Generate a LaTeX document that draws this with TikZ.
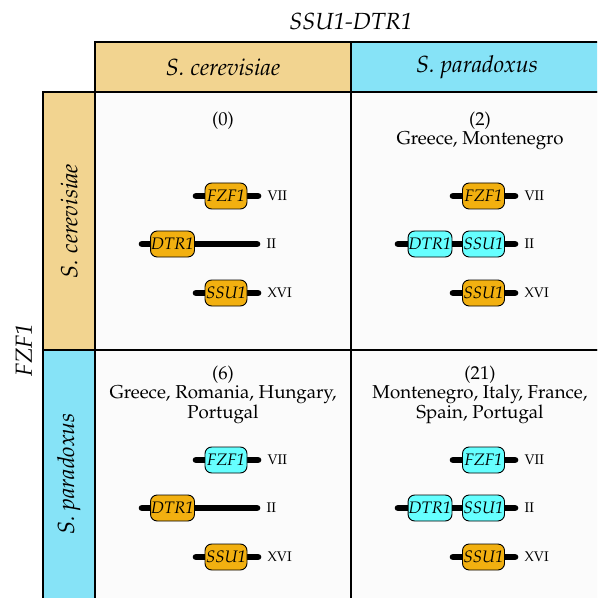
\documentclass[tikz,border=0pt]{standalone}
\usepackage[T1]{fontenc}
\usepackage{mathpazo}
\usetikzlibrary{positioning}

\definecolor{scerhead}{RGB}{242,212,144}
\definecolor{sparhead}{RGB}{134,227,247}
\definecolor{scergene}{RGB}{242,176,16}
\definecolor{spargene}{RGB}{102,255,255}
\definecolor{cellbg}{RGB}{251,251,251}

\tikzset{
  cellframe/.style={draw=black, line width=1.2pt},
  headtext/.style={font=\fontsize{17.5}{17.5}\selectfont\itshape},
  gene/.style={draw, line width=0.7pt, rounded corners=5pt, minimum width=31.5pt,
    minimum height=19.5pt, inner sep=0.5pt, font=\fontsize{12.5}{12.5}\selectfont\itshape},
  scer/.style={gene, fill=scergene},
  spar/.style={gene, fill=spargene},
  chrom/.style={line width=5pt, line cap=round},
  chrname/.style={anchor=west, inner sep=0pt, font=\fontsize{10.5}{10.5}\selectfont},
  strains/.style={anchor=north, align=center, inner sep=0pt, font=\fontsize{14}{14}\selectfont},
}

% one chromosome: name, left x, right x, y, numeral
\newcommand{\chrline}[5]{%
  \coordinate (#1l) at (#2,#4);
  \coordinate (#1r) at (#3,#4);
  \draw[chrom] (#1l) -- (#1r);
  \node[chrname] (#1n) at ([xshift=7pt]#1r) {#5};
}

\begin{document}
\begin{tikzpicture}[x=0.75pt,y=-0.75pt]
  \useasboundingbox (0,0) rectangle (597,598);
  \clip (0,0) rectangle (597,598);

  % headers
  \node[headtext] (title) at (351,22) {SSU1-DTR1};
  \node[headtext, rotate=90] (fzf) at (24,350) {FZF1};
  \draw[cellframe, fill=scerhead] (95,42) rectangle (351,92);
  \draw[cellframe, fill=sparhead] (351,42) rectangle (640,92);
  \draw[cellframe, fill=scerhead] (43,92) rectangle (95,350);
  \draw[cellframe, fill=sparhead] (43,350) rectangle (95,640);
  \node[headtext] (colsc) at (223,67) {S. cerevisiae};
  \node[headtext] (colsp) at (477,67) {S. paradoxus};
  \node[headtext, rotate=90] (rowsc) at (69,221) {S. cerevisiae};
  \node[headtext, rotate=90] (rowsp) at (69,474) {S. paradoxus};

  % cells
  \draw[cellframe, fill=cellbg] (95,92) rectangle (351,350);
  \draw[cellframe, fill=cellbg] (351,92) rectangle (640,350);
  \draw[cellframe, fill=cellbg] (95,350) rectangle (351,640);
  \draw[cellframe, fill=cellbg] (351,350) rectangle (640,640);

  \node[strains] (nA) at (223,112) {(0)};
  \node[strains] (nB) at (480,112) {(2)\\Greece, Montenegro};
  \node[strains] (nC) at (223,366) {(6)\\Greece, Romania, Hungary,\\Portugal};
  \node[strains] (nD) at (480,366) {(21)\\Montenegro, Italy, France,\\Spain, Portugal};

  % S. cerevisiae x S. cerevisiae
  \chrline{aVII}{196}{258}{196}{VII}
  \chrline{aII}{142}{257}{244}{II}
  \chrline{aXVI}{196}{258}{293}{XVI}
  \node[scer] (aFZF) at (226,196) {FZF1};
  \node[scer] (aDTR) at (172.5,244) {DTR1};
  \node[scer] (aSSU) at (226,293) {SSU1};

  % S. paradoxus SSU1-DTR1
  \chrline{bVII}{453}{515}{196}{VII}
  \chrline{bII}{398}{515}{244}{II}
  \chrline{bXVI}{453}{515}{293}{XVI}
  \node[scer] (bFZF) at (483.5,196) {FZF1};
  \node[spar] (bDTR) at (430,244) {DTR1};
  \node[spar] (bSSU) at (483.5,244) {SSU1};
  \node[scer] (bSSUx) at (483.5,293) {SSU1};

  % S. paradoxus FZF1
  \chrline{cVII}{196}{258}{460}{VII}
  \chrline{cII}{142}{257}{508}{II}
  \chrline{cXVI}{196}{258}{557}{XVI}
  \node[spar] (cFZF) at (226,460) {FZF1};
  \node[scer] (cDTR) at (172.5,508) {DTR1};
  \node[scer] (cSSU) at (226,557) {SSU1};

  % both from S. paradoxus
  \chrline{dVII}{453}{515}{460}{VII}
  \chrline{dII}{398}{515}{508}{II}
  \chrline{dXVI}{453}{515}{557}{XVI}
  \node[spar] (dFZF) at (483.5,460) {FZF1};
  \node[spar] (dDTR) at (430,508) {DTR1};
  \node[spar] (dSSU) at (483.5,508) {SSU1};
  \node[scer] (dSSUx) at (483.5,557) {SSU1};
\end{tikzpicture}
\end{document}
